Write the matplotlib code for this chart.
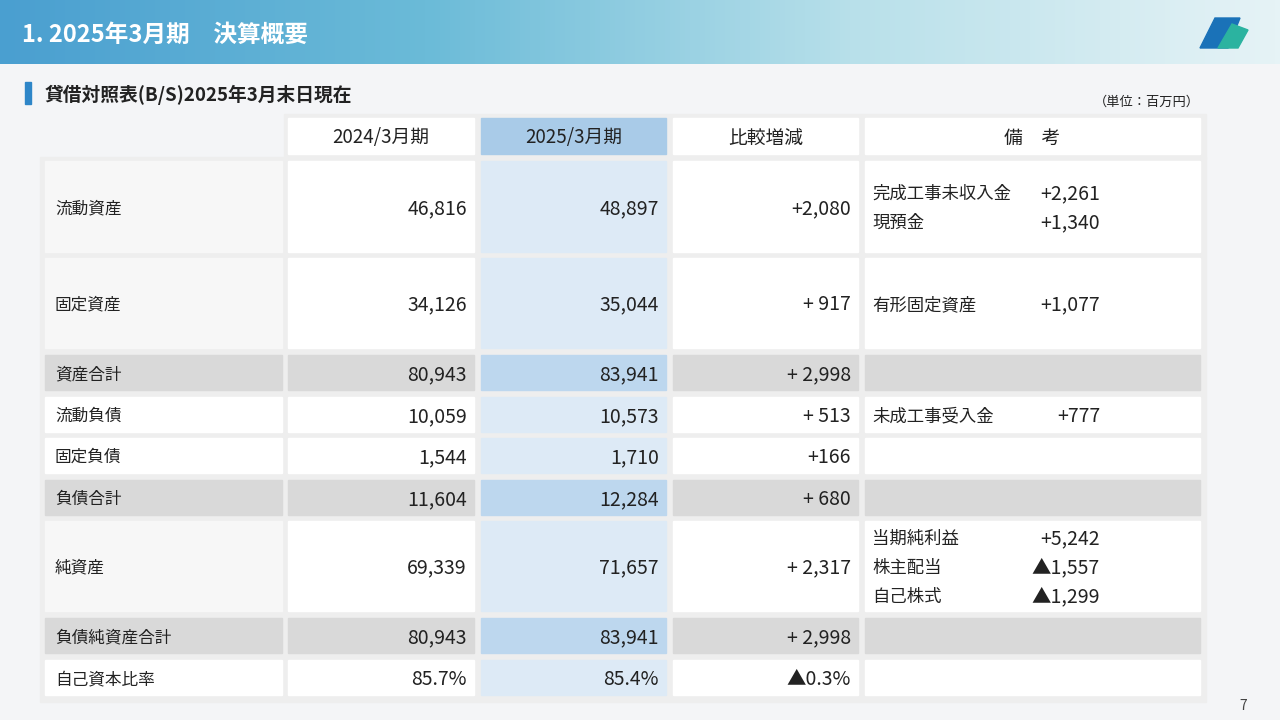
import matplotlib
matplotlib.use("Agg")
import matplotlib.pyplot as plt
import numpy as np
from matplotlib.patches import Rectangle, Polygon
from matplotlib.colors import LinearSegmentedColormap

plt.rcParams["font.family"] = "Noto Sans CJK JP"

title = "1. 2025年3月期　決算概要"
subtitle = "貸借対照表(B/S)2025年3月末日現在"
unit = "（単位：百万円）"
headers = ["", "2024/3月期", "2025/3月期", "比較増減", "備　考"]
row_labels = ["流動資産", "固定資産", "資産合計", "流動負債", "固定負債", "負債合計",
              "純資産", "負債純資産合計", "自己資本比率"]
fy2024 = ["46,816", "34,126", "80,943", "10,059", "1,544", "11,604", "69,339", "80,943", "85.7%"]
fy2025 = ["48,897", "35,044", "83,941", "10,573", "1,710", "12,284", "71,657", "83,941", "85.4%"]
diff = ["+2,080", "+ 917", "+ 2,998", "+ 513", "+166", "+ 680", "+ 2,317", "+ 2,998", "▲0.3%"]
notes = [[("完成工事未収入金", "+2,261"), ("現預金", "+1,340")],
         [("有形固定資産", "+1,077")],
         [],
         [("未成工事受入金", "+777")],
         [], [],
         [("当期純利益", "+5,242"), ("株主配当", "▲1,557"), ("自己株式", "▲1,299")],
         [], []]
total_rows = [2, 5, 7]

fig = plt.figure(figsize=(12.8, 7.2), dpi=100)
ax = fig.add_axes([0, 0, 1, 1])
ax.set_xlim(0, 1280); ax.set_ylim(720, 0); ax.axis("off")

ax.add_patch(Rectangle((0, 0), 1280, 720, color="#f4f5f7", zorder=0))
grad = np.linspace(0, 1, 256).reshape(1, -1)
cmap = LinearSegmentedColormap.from_list("g", ["#4a9fd0", "#6bbbd8", "#b8e0ea", "#e6f3f6"])
ax.imshow(grad, extent=(0, 1280, 64, 0), aspect="auto", cmap=cmap, zorder=1)
ax.text(22, 35, title, color="white", fontsize=17, fontweight="bold", va="center", zorder=3)
ax.add_patch(Polygon([[1200, 48], [1215, 18], [1240, 18], [1228, 48]], color="#1a72b8", zorder=3))
ax.add_patch(Polygon([[1218, 48], [1232, 24], [1248, 30], [1238, 48]], color="#2bb3a0", zorder=3))

ax.add_patch(Rectangle((25, 82), 6, 22, color="#2e86c8", zorder=3))
ax.text(45, 95, subtitle, fontsize=13.5, fontweight="bold", va="center", color="#222222", zorder=3)
ax.text(1200, 102, unit, fontsize=9.5, ha="right", va="center", color="#222222", zorder=3)

ax.add_patch(Rectangle((40, 157), 1166, 545, color="#eeeeee", zorder=1))
ax.add_patch(Rectangle((284, 114), 922, 45, color="#eeeeee", zorder=1))

cols = [(45, 282), (288, 474), (481, 666), (673, 858), (865, 1200)]
rows = [(161, 252), (258, 348), (355, 390), (397, 432), (438, 473), (480, 515),
        (521, 611), (618, 653), (660, 695)]

for j, (x0, x1) in enumerate(cols):
    if j == 0:
        continue
    c = "#a9cbe8" if j == 2 else "white"
    ax.add_patch(Rectangle((x0, 118), x1 - x0, 36, color=c, zorder=2))
    ax.text((x0 + x1) / 2, 138, headers[j], fontsize=13.5, ha="center", va="center", color="#222222", zorder=3)

for i, (y0, y1) in enumerate(rows):
    tot = i in total_rows
    for j, (x0, x1) in enumerate(cols):
        if j == 2:
            c = "#bdd7ee" if tot else "#ddeaf6"
        else:
            c = "#d9d9d9" if tot else "white"
        if j == 0 and not tot:
            c = "#f7f7f7" if i in (0, 1, 6) else "white"
        ax.add_patch(Rectangle((x0, y0), x1 - x0, y1 - y0, color=c, zorder=2))
    ym = (y0 + y1) / 2 + 2
    ax.text(55, ym, row_labels[i], fontsize=12, va="center", color="#222222", zorder=3)
    for j, vals in ((1, fy2024), (2, fy2025), (3, diff)):
        ax.text(cols[j][1] - 7, ym, vals[i], fontsize=14, ha="right", va="center", color="#222222", zorder=3)
    n = notes[i]
    for k, (lab, v) in enumerate(n):
        yy = ym + (k - (len(n) - 1) / 2) * 29
        ax.text(872, yy, lab, fontsize=12.5, va="center", color="#222222", zorder=3)
        ax.text(1100, yy, v, fontsize=14, ha="right", va="center", color="#222222", zorder=3)

ax.text(1243, 706, "7", fontsize=10, ha="center", va="center", color="#444444", zorder=3)

fig.savefig("out.png", dpi=100)
